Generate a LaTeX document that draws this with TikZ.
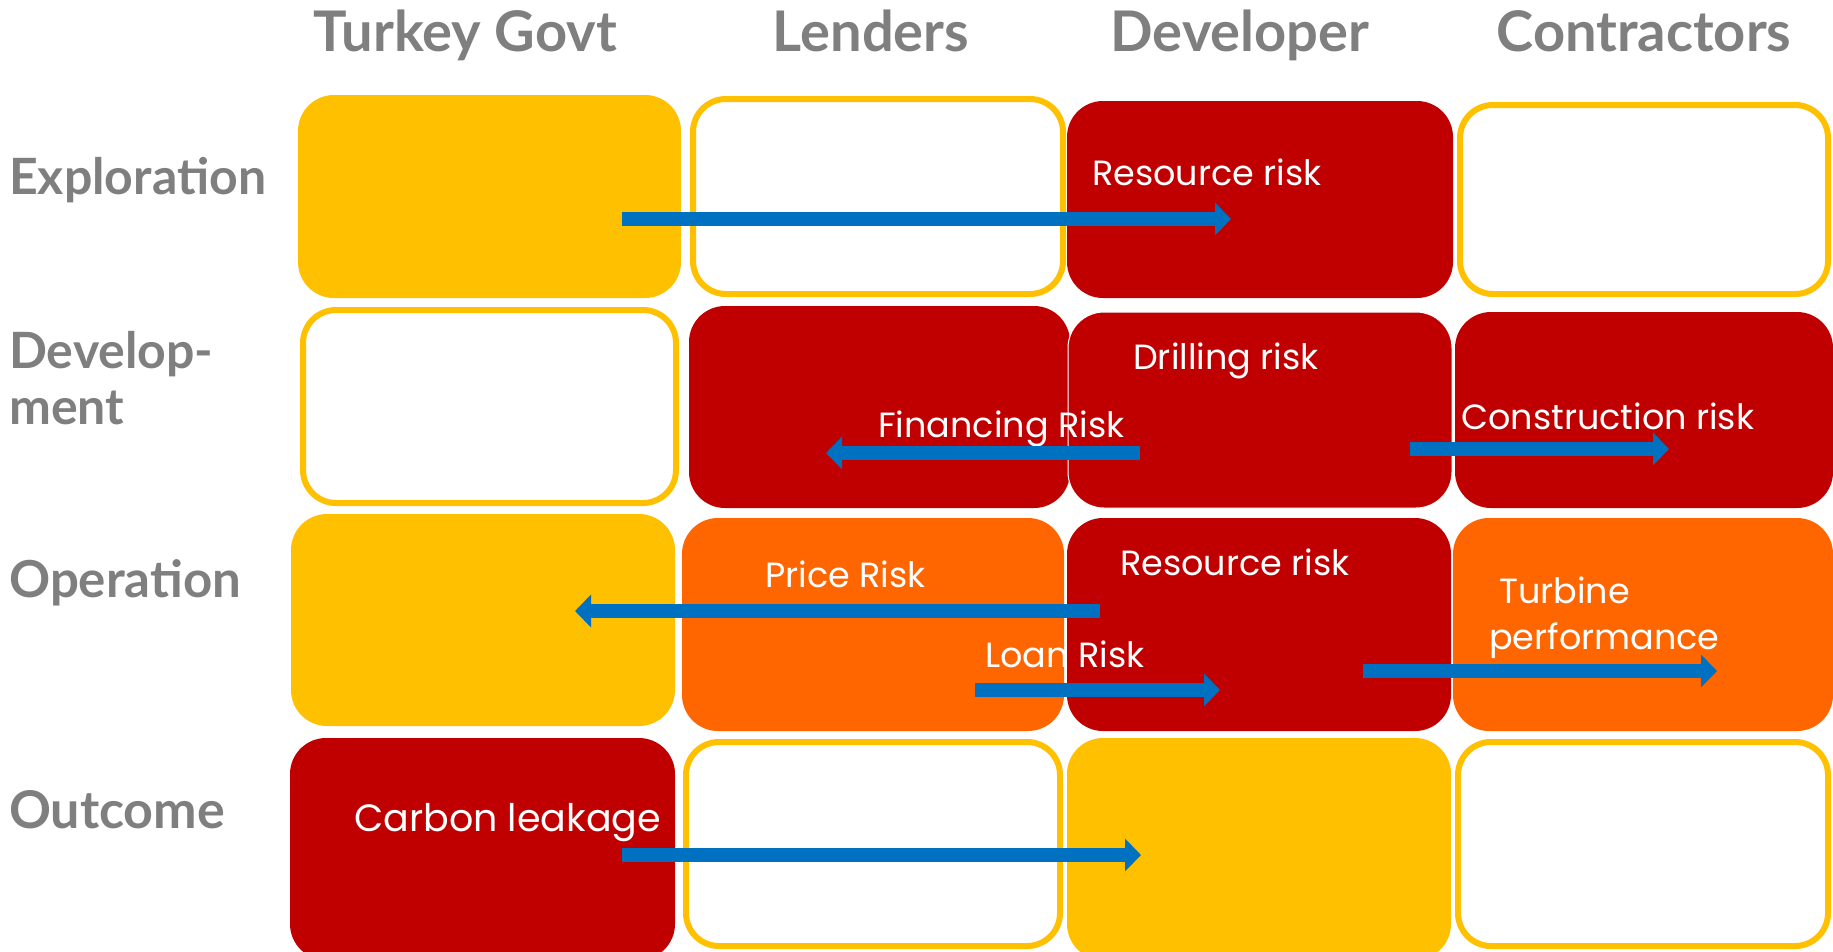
\documentclass[tikz,border=0pt]{standalone}
\usepackage{fontspec}
\setmainfont{Poppins}
\newfontfamily\hdfont{Lato}
\usetikzlibrary{arrows.meta}
\definecolor{cyel}{HTML}{FFC000}
\definecolor{cred}{HTML}{C00000}
\definecolor{corg}{HTML}{FF6600}
\definecolor{cblu}{HTML}{0070C0}
\definecolor{cgry}{HTML}{7F7F7F}
\tikzset{
  cell/.style={rounded corners=36pt, inner sep=0pt, outer sep=0pt},
  fillyel/.style={cell, fill=cyel},
  fillred/.style={cell, fill=cred},
  fillorg/.style={cell, fill=corg},
  empty/.style={cell, fill=white, draw=cyel, line width=6pt, rounded corners=33pt},
  hdr/.style={inner sep=0pt, anchor=base, text=cgry, font=\hdfont\bfseries\fontsize{56}{60}\selectfont},
  rowlab/.style={inner sep=0pt, anchor=base west, text=cgry, font=\hdfont\bfseries\fontsize{50}{56}\selectfont},
  risk/.style={inner sep=0pt, anchor=base west, text=white, font=\fontsize{35}{40}\selectfont},
  riskarrow/.style={draw=cblu, line width=14pt, -{Triangle[length=16pt,width=32pt]}, color=cblu},
}
\begin{document}
\begin{tikzpicture}[x=1pt,y=-1pt]
\useasboundingbox (0,0) rectangle (1833,951);
\fill[white] (0,0) rectangle (1833,951);
% headers
\node[hdr] (hgov) at (465,51) {Turkey Govt};
\node[hdr] (hlen) at (871,51) {Lenders};
\node[hdr] (hdev) at (1240,51) {Developer};
\node[hdr] (hcon) at (1644,51) {Contractors};
% row labels
\node[rowlab] (lexp) at (9,194) {Exploration};
\node[rowlab] (ldev1) at (9,368) {Develop-};
\node[rowlab] (ldev2) at (9,424) {ment};
\node[rowlab, font=\hdfont\bfseries\fontsize{51}{56}\selectfont] (lop) at (9,597) {Operation};
\node[rowlab, font=\hdfont\bfseries\fontsize{52}{56}\selectfont] (lout) at (9,828) {Outcome};
% row 1
\node[fillyel, minimum width=383pt, minimum height=203pt] (e1) at (489.5,196.5) {};
\node[empty, minimum width=370pt, minimum height=195pt] (e2) at (878,196.5) {};
\node[fillred, minimum width=386pt, minimum height=197pt] (e3) at (1260,199.5) {};
\node[empty, minimum width=368pt, minimum height=189pt] (e4) at (1644,199.5) {};
% row 2
\node[empty, minimum width=373pt, minimum height=193pt] (d1) at (489.5,406.5) {};
\node[fillred, minimum width=381pt, minimum height=202pt] (d2) at (879.5,407) {};
\node[fillred, draw=white, line width=1pt, minimum width=384pt, minimum height=196pt] (d3) at (1260,410) {};
\node[fillred, minimum width=378pt, minimum height=196pt] (d4) at (1644,410) {};
% row 3
\node[fillyel, minimum width=384pt, minimum height=212pt] (o1) at (483,620) {};
\node[fillorg, minimum width=382pt, minimum height=213pt] (o2) at (873,624.5) {};
\node[fillred, minimum width=384pt, minimum height=213pt] (o3) at (1259,624.5) {};
\node[fillorg, minimum width=380pt, minimum height=213pt] (o4) at (1643,624.5) {};
% row 4
\node[fillred, minimum width=385pt, minimum height=222pt] (u1) at (482.5,849) {};
\node[empty, minimum width=374pt, minimum height=204pt] (u2) at (873,844) {};
\node[fillyel, minimum width=384pt, minimum height=222pt] (u3) at (1259,849) {};
\node[empty, minimum width=370pt, minimum height=204pt] (u4) at (1643,844) {};
% texts
\node[risk] (t1) at (1092,185) {Resource risk};
\node[risk] (t2) at (1133,369) {Drilling risk};
\node[risk] (t3) at (878,437) {Financing Risk};
\node[risk] (t4) at (1461,429) {Construction risk};
\node[risk] (t5) at (765,587) {Price Risk};
\node[risk] (t6) at (1120,575) {Resource risk};
\node[risk] (t7a) at (1499,603) {Turbine};
\node[risk] (t7b) at (1489,649) {performance};
\node[risk] (t8) at (985,667) {Loan Risk};
\node[risk, font=\fontsize{38}{42}\selectfont] (t9) at (354,831) {Carbon leakage};
% arrow end points
\coordinate (a1s) at (622,219); \coordinate (a1e) at (1231,219);
\coordinate (a2s) at (1140,453); \coordinate (a2e) at (826,453);
\coordinate (a3s) at (1410,449); \coordinate (a3e) at (1669,449);
\coordinate (a4s) at (1100,611); \coordinate (a4e) at (575,611);
\coordinate (a5s) at (975,690); \coordinate (a5e) at (1220,690);
\coordinate (a6s) at (1363,671); \coordinate (a6e) at (1717,671);
\coordinate (a7s) at (622,855); \coordinate (a7e) at (1141,855);
\draw[riskarrow] (a1s) -- (a1e);
\draw[riskarrow] (a2s) -- (a2e);
\draw[riskarrow] (a3s) -- (a3e);
\draw[riskarrow] (a4s) -- (a4e);
\draw[riskarrow] (a5s) -- (a5e);
\draw[riskarrow] (a6s) -- (a6e);
\draw[riskarrow] (a7s) -- (a7e);
\end{tikzpicture}
\end{document}
